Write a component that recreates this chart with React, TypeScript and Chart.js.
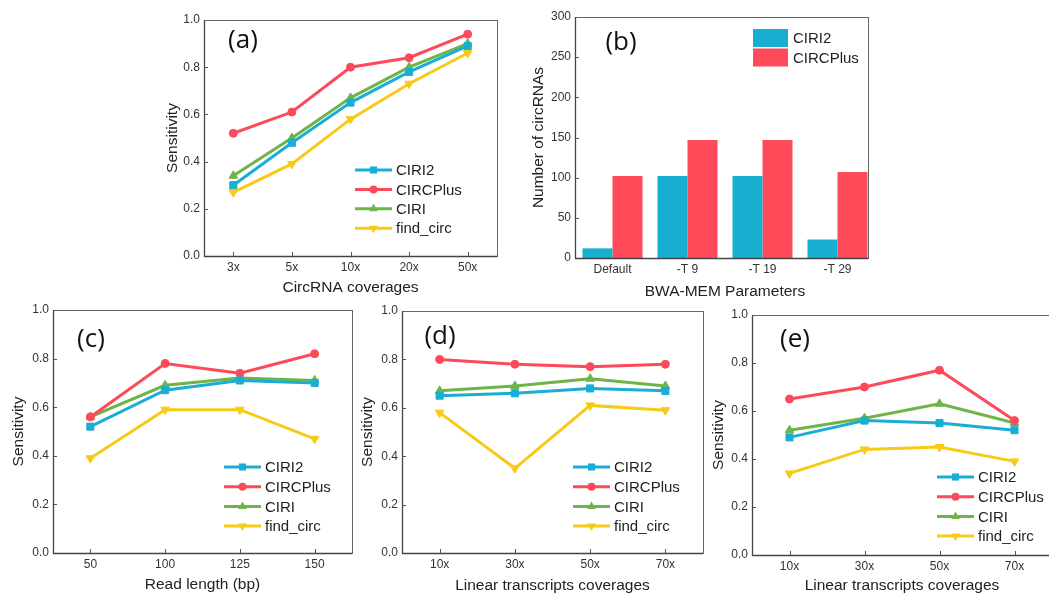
import React, { useEffect, useRef } from 'react';
import { Chart, registerables } from 'chart.js';
Chart.register(...registerables);

const W = 1080;
const H = 598;
const FONT = '"Liberation Sans", Arial, sans-serif';

const seriesNames = ['CIRI2', 'CIRCPlus', 'CIRI', 'find_circ'];
const colors = ['#1AAED6', '#FD4A5A', '#6EB449', '#F7CA18'];
const pointStyles = ['rect', 'circle', 'triangle', 'triangle'];
const pointRotations = [0, 0, 0, 180];
const pointRadii = [5, 4, 5, 5];

// Panel (a)
const catsA = ['3x', '5x', '10x', '20x', '50x'];
const a_CIRI2 = [0.30, 0.48, 0.65, 0.78, 0.89];
const a_CIRCPlus = [0.52, 0.61, 0.80, 0.84, 0.94];
const a_CIRI = [0.34, 0.50, 0.67, 0.80, 0.90];
const a_findcirc = [0.27, 0.39, 0.58, 0.73, 0.86];

// Panel (b)
const catsB = ['Default', '-T 9', '-T 19', '-T 29'];
const barNames = ['CIRI2', 'CIRCPlus'];
const barColors = ['#17AFD0', '#FF4A59'];
const b_CIRI2 = [12, 102, 102, 23];
const b_CIRCPlus = [102, 147, 147, 107];

// Panel (c)
const catsC = ['50', '100', '125', '150'];
const c_CIRI2 = [0.52, 0.67, 0.71, 0.70];
const c_CIRCPlus = [0.56, 0.78, 0.74, 0.82];
const c_CIRI = [0.56, 0.69, 0.72, 0.71];
const c_findcirc = [0.39, 0.59, 0.59, 0.47];

// Panel (d)
const catsD = ['10x', '30x', '50x', '70x'];
const d_CIRI2 = [0.65, 0.66, 0.68, 0.67];
const d_CIRCPlus = [0.80, 0.78, 0.77, 0.78];
const d_CIRI = [0.67, 0.69, 0.72, 0.69];
const d_findcirc = [0.58, 0.35, 0.61, 0.59];

// Panel (e)
const catsE = ['10x', '30x', '50x', '70x'];
const e_CIRI2 = [0.49, 0.56, 0.55, 0.52];
const e_CIRCPlus = [0.65, 0.70, 0.77, 0.56];
const e_CIRI = [0.52, 0.57, 0.63, 0.55];
const e_findcirc = [0.34, 0.44, 0.45, 0.39];

type PanelCfg = {
  kind: 'line' | 'bar';
  cats: string[];
  series: number[][];
  xTitle: string;
  yTitle: string;
  x0: number; y0: number; x1: number; y1: number;
  yTitleX: number; xTitleY: number;
  frameRight?: number;
  label: string; labelX: number; labelY: number;
  legend: { x: number; y: number; rowH: number };
  yMax: number; yStep: number; yDigits: number;
  xTicksInward: boolean;
};

const panels: PanelCfg[] = [
  {
    kind: 'line', cats: catsA, series: [a_CIRI2, a_CIRCPlus, a_CIRI, a_findcirc],
    xTitle: 'CircRNA coverages', yTitle: 'Sensitivity',
    x0: 204, y0: 20, x1: 497, y1: 256, yTitleX: 172, xTitleY: 288,
    label: '(a)', labelX: 243, labelY: 41,
    legend: { x: 355, y: 170, rowH: 19.4 }, yMax: 1, yStep: 0.2, yDigits: 1, xTicksInward: true,
  },
  {
    kind: 'bar', cats: catsB, series: [b_CIRI2, b_CIRCPlus],
    xTitle: 'BWA-MEM Parameters', yTitle: 'Number of circRNAs',
    x0: 575, y0: 17, x1: 875, y1: 258, yTitleX: 538, xTitleY: 292, frameRight: 868,
    label: '(b)', labelX: 621, labelY: 43,
    legend: { x: 753, y: 38, rowH: 19.5 }, yMax: 300, yStep: 50, yDigits: 0, xTicksInward: false,
  },
  {
    kind: 'line', cats: catsC, series: [c_CIRI2, c_CIRCPlus, c_CIRI, c_findcirc],
    xTitle: 'Read length (bp)', yTitle: 'Sensitivity',
    x0: 53, y0: 310, x1: 352, y1: 553, yTitleX: 18, xTitleY: 585,
    label: '(c)', labelX: 91, labelY: 340,
    legend: { x: 224, y: 467, rowH: 19.7 }, yMax: 1, yStep: 0.2, yDigits: 1, xTicksInward: true,
  },
  {
    kind: 'line', cats: catsD, series: [d_CIRI2, d_CIRCPlus, d_CIRI, d_findcirc],
    xTitle: 'Linear transcripts coverages', yTitle: 'Sensitivity',
    x0: 402, y0: 311, x1: 703, y1: 553, yTitleX: 367, xTitleY: 586,
    label: '(d)', labelX: 440, labelY: 337,
    legend: { x: 573, y: 467, rowH: 19.7 }, yMax: 1, yStep: 0.2, yDigits: 1, xTicksInward: true,
  },
  {
    kind: 'line', cats: catsE, series: [e_CIRI2, e_CIRCPlus, e_CIRI, e_findcirc],
    xTitle: 'Linear transcripts coverages', yTitle: 'Sensitivity',
    x0: 752, y0: 315, x1: 1052, y1: 555, yTitleX: 718, xTitleY: 586,
    label: '(e)', labelX: 795, labelY: 340,
    legend: { x: 937, y: 477, rowH: 19.7 }, yMax: 1, yStep: 0.2, yDigits: 1, xTicksInward: true,
  },
];

function drawMarker(ctx: CanvasRenderingContext2D, style: string, x: number, y: number, r: number, rot: number, color: string) {
  ctx.save();
  ctx.fillStyle = color;
  ctx.beginPath();
  if (style === 'circle') {
    ctx.arc(x, y, r, 0, Math.PI * 2);
  } else if (style === 'rect') {
    const s = r * Math.SQRT1_2;
    ctx.rect(x - s, y - s, 2 * s, 2 * s);
  } else {
    let rad = (rot * Math.PI) / 180;
    ctx.moveTo(x + Math.sin(rad) * r, y - Math.cos(rad) * r);
    rad += (2 * Math.PI) / 3;
    ctx.lineTo(x + Math.sin(rad) * r, y - Math.cos(rad) * r);
    rad += (2 * Math.PI) / 3;
    ctx.lineTo(x + Math.sin(rad) * r, y - Math.cos(rad) * r);
    ctx.closePath();
  }
  ctx.fill();
  ctx.restore();
}

const decorPlugin = {
  id: 'decor',
  afterDatasetsDraw(chart: any, _args: any, opts: any) {
    const p: PanelCfg = opts.cfg;
    if (!p) return;
    const { ctx, chartArea: ca } = chart;
    const right = p.frameRight ?? ca.right;
    const xs = chart.scales.x;
    const ys = chart.scales.y;
    ctx.save();
    ctx.strokeStyle = '#555';
    ctx.lineWidth = 1;
    ctx.beginPath();
    if (p.xTicksInward) {
      xs.ticks.forEach((_t: any, i: number) => {
        const px = Math.round(xs.getPixelForTick(i)) + 0.5;
        ctx.moveTo(px, ca.bottom);
        ctx.lineTo(px, ca.bottom - 4);
      });
    }
    ys.ticks.forEach((_t: any, i: number) => {
      const py = Math.round(ys.getPixelForTick(i)) + 0.5;
      ctx.moveTo(ca.left, py);
      ctx.lineTo(ca.left + 4, py);
    });
    ctx.stroke();
    ctx.strokeStyle = '#666';
    ctx.strokeRect(Math.round(ca.left) + 0.5, Math.round(ca.top) + 0.5, Math.round(right - ca.left), Math.round(ca.bottom - ca.top));
    ctx.strokeStyle = '#444';
    ctx.lineWidth = 1.3;
    ctx.beginPath();
    ctx.moveTo(Math.round(ca.left) + 0.5, Math.round(ca.top));
    ctx.lineTo(Math.round(ca.left) + 0.5, Math.round(ca.bottom) + 0.5);
    ctx.lineTo(Math.round(right), Math.round(ca.bottom) + 0.5);
    ctx.stroke();

    // panel label
    ctx.font = '26px "Open Sans", "Liberation Sans", sans-serif';
    ctx.fillStyle = '#111';
    ctx.textAlign = 'center';
    ctx.textBaseline = 'middle';
    ctx.fillText(p.label, p.labelX, p.labelY);

    // legend
    ctx.font = '15px ' + FONT;
    ctx.textAlign = 'left';
    ctx.textBaseline = 'middle';
    const L = p.legend;
    chart.data.datasets.forEach((ds: any, i: number) => {
      const y = L.y + i * L.rowH;
      if (p.kind === 'line') {
        ctx.strokeStyle = ds.borderColor;
        ctx.lineWidth = 3;
        ctx.beginPath();
        ctx.moveTo(L.x, y);
        ctx.lineTo(L.x + 37, y);
        ctx.stroke();
        drawMarker(ctx, ds.pointStyle, L.x + 18.5, y, ds.pointRadius, ds.pointRotation, ds.borderColor);
        ctx.fillStyle = '#222';
        ctx.fillText(ds.label, L.x + 41, y + 1);
      } else {
        ctx.fillStyle = ds.backgroundColor;
        ctx.fillRect(L.x, y - 9, 35, 18);
        ctx.fillStyle = '#222';
        ctx.fillText(ds.label, L.x + 40, y + 1);
      }
    });
    ctx.restore();
  },
};

function buildConfig(p: PanelCfg): any {
  const datasets = p.kind === 'line'
    ? p.series.map((d, i) => ({
        label: seriesNames[i],
        data: d,
        borderColor: colors[i],
        backgroundColor: colors[i],
        borderWidth: 3,
        pointStyle: pointStyles[i],
        pointRotation: pointRotations[i],
        pointRadius: pointRadii[i],
        pointBackgroundColor: colors[i],
        pointBorderColor: colors[i],
        pointBorderWidth: 1,
        tension: 0,
      }))
    : p.series.map((d, i) => ({
        label: barNames[i],
        data: d,
        backgroundColor: barColors[i],
        borderWidth: 0,
        categoryPercentage: 0.8,
        barPercentage: 1.0,
      }));
  const padLeft = p.yTitleX - 9;
  const padBottom = H - (p.xTitleY + 9);
  return {
    type: p.kind,
    data: { labels: p.cats, datasets },
    options: {
      responsive: false,
      animation: false,
      devicePixelRatio: 1,
      events: [],
      layout: { padding: { left: padLeft, top: p.y0, right: W - p.x1, bottom: padBottom } },
      plugins: {
        legend: { display: false },
        tooltip: { enabled: false },
        decor: { cfg: p },
      },
      scales: {
        x: {
          type: 'category',
          offset: true,
          grid: { display: false, drawTicks: false },
          border: { display: false },
          ticks: { font: { size: 12, family: FONT }, color: '#333', padding: 4, maxRotation: 0, autoSkip: false },
          title: { display: true, text: p.xTitle, font: { size: 15.5, family: FONT }, color: '#222', padding: 0 },
          afterFit: (s: any) => { s.height = (H - padBottom) - p.y1; },
        },
        y: {
          min: 0,
          max: p.yMax,
          grid: { display: false, drawTicks: false },
          border: { display: false },
          ticks: {
            stepSize: p.yStep,
            font: { size: 12, family: FONT },
            color: '#333',
            padding: 4,
            callback: (v: number) => Number(v).toFixed(p.yDigits),
          },
          title: { display: true, text: p.yTitle, font: { size: 15.5, family: FONT }, color: '#222', padding: 0 },
          afterFit: (s: any) => { s.width = p.x0 - padLeft; },
        },
      },
    },
    plugins: [decorPlugin],
  };
}

function Panel({ cfg }: { cfg: PanelCfg }) {
  const ref = useRef<HTMLCanvasElement | null>(null);
  useEffect(() => {
    if (!ref.current) return;
    const chart = new Chart(ref.current, buildConfig(cfg));
    return () => chart.destroy();
  }, [cfg]);
  return <canvas ref={ref} width={W} height={H} style={{ position: 'absolute', left: 0, top: 0, width: W, height: H }} />;
}

export default function App() {
  return (
    <div style={{ position: 'fixed', left: 0, top: 0, width: 1049, height: 598, overflow: 'hidden', background: '#fff' }}>
      {panels.map((p, i) => <Panel key={i} cfg={p} />)}
    </div>
  );
}
